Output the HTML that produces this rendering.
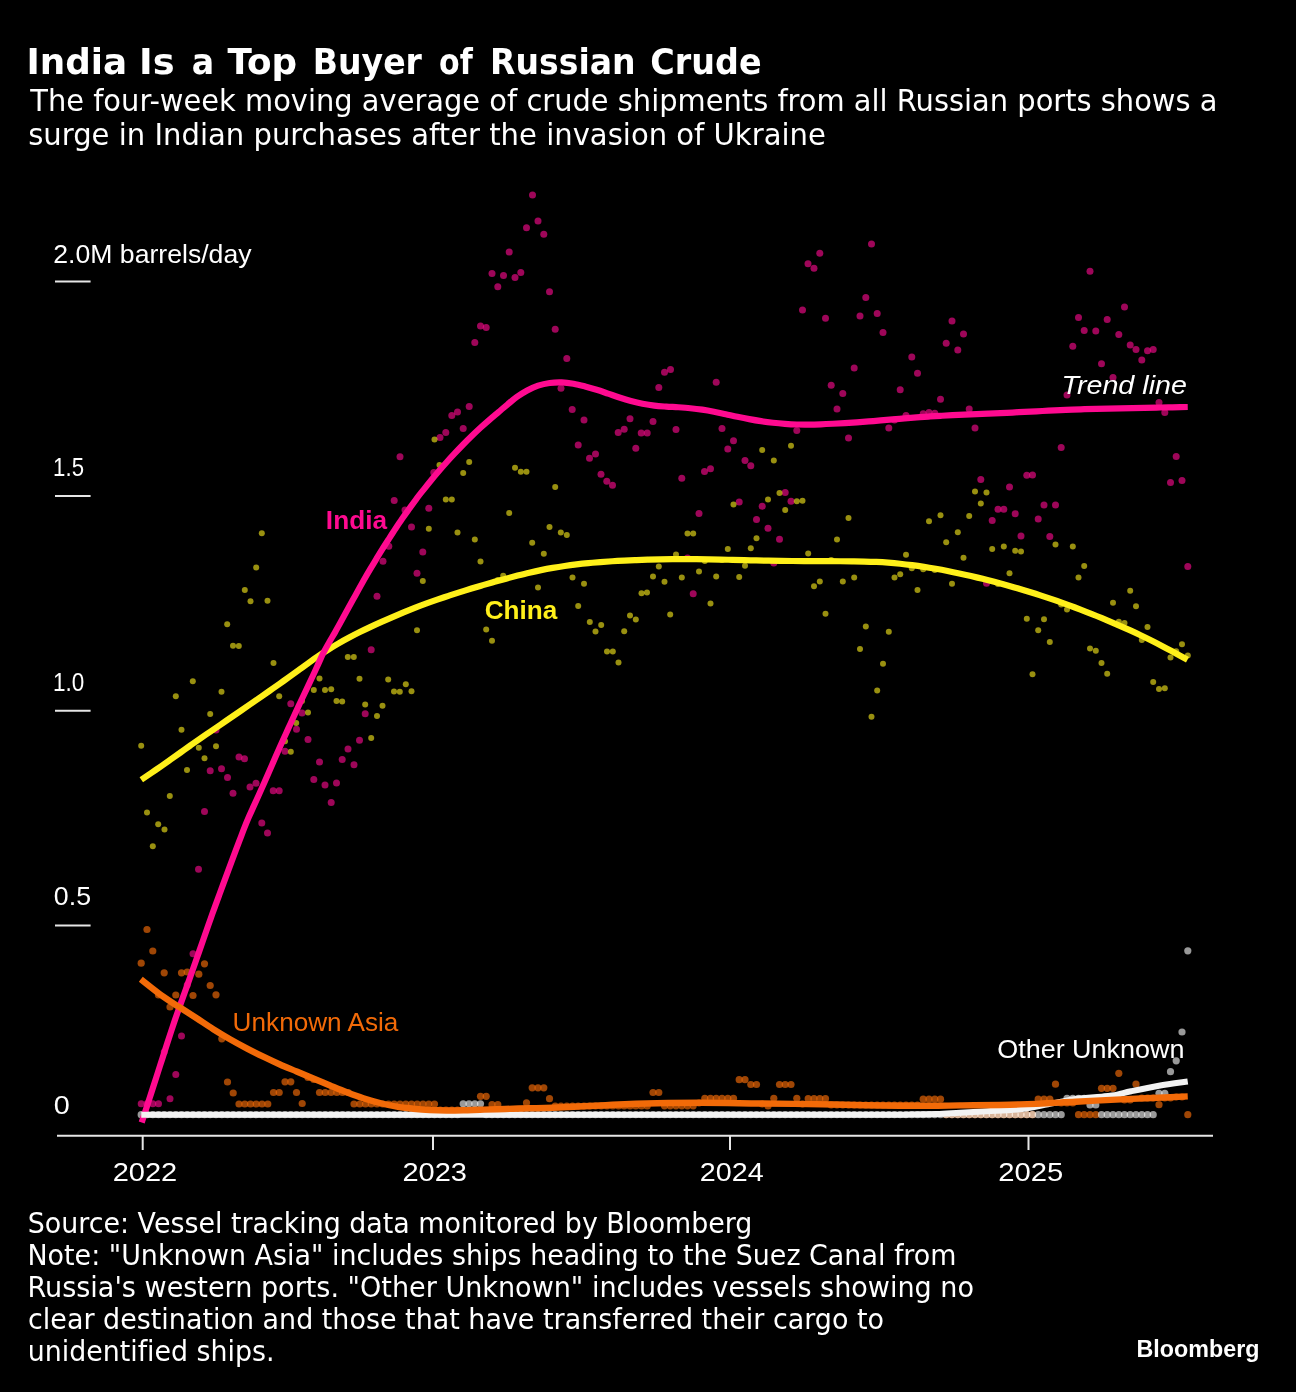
<!DOCTYPE html>
<html lang="en"><head><meta charset="utf-8"><title>India Is a Top Buyer of Russian Crude</title>
<style>html,body{margin:0;padding:0;background:#000}svg{display:block}text{font-variant-ligatures:none;font-kerning:normal}</style></head>
<body>
<svg width="1296" height="1392" viewBox="0 0 1296 1392"><rect width="1296" height="1392" fill="#000"/><g fill="#ff0a90" fill-opacity="0.62"><circle cx="141.2" cy="1103.8" r="3.5"/><circle cx="147.0" cy="1103.8" r="3.5"/><circle cx="152.8" cy="1103.8" r="3.5"/><circle cx="158.5" cy="1103.8" r="3.5"/><circle cx="164.2" cy="1052.0" r="3.5"/><circle cx="170.0" cy="1098.8" r="3.5"/><circle cx="175.8" cy="1074.5" r="3.5"/><circle cx="181.5" cy="1036.0" r="3.5"/><circle cx="187.2" cy="985.0" r="3.5"/><circle cx="193.0" cy="953.8" r="3.5"/><circle cx="198.5" cy="869.2" r="3.5"/><circle cx="204.5" cy="811.5" r="3.5"/><circle cx="210.2" cy="770.8" r="3.5"/><circle cx="216.0" cy="730.0" r="3.5"/><circle cx="221.5" cy="768.8" r="3.5"/><circle cx="227.5" cy="777.5" r="3.5"/><circle cx="233.0" cy="793.2" r="3.5"/><circle cx="239.0" cy="757.0" r="3.5"/><circle cx="244.5" cy="758.8" r="3.5"/><circle cx="250.0" cy="787.0" r="3.5"/><circle cx="256.0" cy="783.2" r="3.5"/><circle cx="261.8" cy="823.0" r="3.5"/><circle cx="267.5" cy="833.0" r="3.5"/><circle cx="273.2" cy="790.8" r="3.5"/><circle cx="279.2" cy="790.8" r="3.5"/><circle cx="285.0" cy="751.2" r="3.5"/><circle cx="290.8" cy="703.8" r="3.5"/><circle cx="296.5" cy="729.2" r="3.5"/><circle cx="302.0" cy="713.0" r="3.5"/><circle cx="308.0" cy="739.5" r="3.5"/><circle cx="313.8" cy="779.5" r="3.5"/><circle cx="319.5" cy="762.0" r="3.5"/><circle cx="325.0" cy="785.0" r="3.5"/><circle cx="331.2" cy="802.5" r="3.5"/><circle cx="336.5" cy="783.0" r="3.5"/><circle cx="342.2" cy="759.5" r="3.5"/><circle cx="348.0" cy="749.0" r="3.5"/><circle cx="354.0" cy="764.8" r="3.5"/><circle cx="359.5" cy="740.2" r="3.5"/><circle cx="365.2" cy="713.8" r="3.5"/><circle cx="371.2" cy="649.8" r="3.5"/><circle cx="377.0" cy="596.2" r="3.5"/><circle cx="383.0" cy="561.2" r="3.5"/><circle cx="388.8" cy="546.2" r="3.5"/><circle cx="394.2" cy="500.5" r="3.5"/><circle cx="400.0" cy="456.8" r="3.5"/><circle cx="405.0" cy="510.0" r="3.5"/><circle cx="411.5" cy="527.0" r="3.5"/><circle cx="417.0" cy="573.2" r="3.5"/><circle cx="422.8" cy="552.0" r="3.5"/><circle cx="428.8" cy="508.2" r="3.5"/><circle cx="433.8" cy="472.5" r="3.5"/><circle cx="440.0" cy="437.5" r="3.5"/><circle cx="445.8" cy="432.5" r="3.5"/><circle cx="451.8" cy="415.5" r="3.5"/><circle cx="457.5" cy="412.0" r="3.5"/><circle cx="463.2" cy="428.5" r="3.5"/><circle cx="469.2" cy="406.5" r="3.5"/><circle cx="474.8" cy="342.5" r="3.5"/><circle cx="480.5" cy="326.0" r="3.5"/><circle cx="486.2" cy="327.5" r="3.5"/><circle cx="492.0" cy="273.5" r="3.5"/><circle cx="497.8" cy="286.8" r="3.5"/><circle cx="503.5" cy="275.5" r="3.5"/><circle cx="509.2" cy="252.0" r="3.5"/><circle cx="515.0" cy="277.5" r="3.5"/><circle cx="520.8" cy="272.5" r="3.5"/><circle cx="526.5" cy="227.8" r="3.5"/><circle cx="532.5" cy="195.0" r="3.5"/><circle cx="538.0" cy="221.0" r="3.5"/><circle cx="543.8" cy="234.2" r="3.5"/><circle cx="549.5" cy="291.8" r="3.5"/><circle cx="555.2" cy="329.2" r="3.5"/><circle cx="561.0" cy="388.2" r="3.5"/><circle cx="566.8" cy="358.5" r="3.5"/><circle cx="572.2" cy="409.5" r="3.5"/><circle cx="578.2" cy="445.0" r="3.5"/><circle cx="584.0" cy="420.0" r="3.5"/><circle cx="589.5" cy="458.2" r="3.5"/><circle cx="595.5" cy="454.0" r="3.5"/><circle cx="601.0" cy="474.2" r="3.5"/><circle cx="606.8" cy="481.2" r="3.5"/><circle cx="612.5" cy="485.2" r="3.5"/><circle cx="618.2" cy="432.5" r="3.5"/><circle cx="624.2" cy="429.2" r="3.5"/><circle cx="630.0" cy="418.8" r="3.5"/><circle cx="635.8" cy="448.2" r="3.5"/><circle cx="641.2" cy="433.0" r="3.5"/><circle cx="647.2" cy="433.0" r="3.5"/><circle cx="653.0" cy="421.5" r="3.5"/><circle cx="658.8" cy="387.5" r="3.5"/><circle cx="664.5" cy="372.2" r="3.5"/><circle cx="670.5" cy="369.5" r="3.5"/><circle cx="676.0" cy="429.5" r="3.5"/><circle cx="681.8" cy="478.2" r="3.5"/><circle cx="687.5" cy="558.0" r="3.5"/><circle cx="693.2" cy="593.8" r="3.5"/><circle cx="699.0" cy="513.5" r="3.5"/><circle cx="704.5" cy="471.5" r="3.5"/><circle cx="710.5" cy="468.8" r="3.5"/><circle cx="716.2" cy="382.2" r="3.5"/><circle cx="722.0" cy="428.5" r="3.5"/><circle cx="727.8" cy="449.0" r="3.5"/><circle cx="733.5" cy="440.8" r="3.5"/><circle cx="739.2" cy="502.0" r="3.5"/><circle cx="745.0" cy="460.5" r="3.5"/><circle cx="750.8" cy="465.8" r="3.5"/><circle cx="756.5" cy="519.5" r="3.5"/><circle cx="762.2" cy="506.2" r="3.5"/><circle cx="768.0" cy="528.2" r="3.5"/><circle cx="773.8" cy="563.0" r="3.5"/><circle cx="779.5" cy="539.2" r="3.5"/><circle cx="785.2" cy="492.5" r="3.5"/><circle cx="791.0" cy="501.2" r="3.5"/><circle cx="796.8" cy="430.5" r="3.5"/><circle cx="802.5" cy="310.0" r="3.5"/><circle cx="808.0" cy="263.8" r="3.5"/><circle cx="814.0" cy="268.2" r="3.5"/><circle cx="819.8" cy="253.2" r="3.5"/><circle cx="825.5" cy="318.2" r="3.5"/><circle cx="831.2" cy="385.2" r="3.5"/><circle cx="837.0" cy="409.0" r="3.5"/><circle cx="842.8" cy="393.5" r="3.5"/><circle cx="848.5" cy="438.0" r="3.5"/><circle cx="854.2" cy="368.0" r="3.5"/><circle cx="860.0" cy="316.0" r="3.5"/><circle cx="865.8" cy="297.5" r="3.5"/><circle cx="871.5" cy="244.0" r="3.5"/><circle cx="877.2" cy="313.5" r="3.5"/><circle cx="883.0" cy="332.5" r="3.5"/><circle cx="888.8" cy="428.0" r="3.5"/><circle cx="894.5" cy="420.0" r="3.5"/><circle cx="900.2" cy="389.8" r="3.5"/><circle cx="906.0" cy="415.5" r="3.5"/><circle cx="911.8" cy="357.0" r="3.5"/><circle cx="917.5" cy="373.2" r="3.5"/><circle cx="923.2" cy="413.8" r="3.5"/><circle cx="929.0" cy="412.5" r="3.5"/><circle cx="934.8" cy="413.2" r="3.5"/><circle cx="940.5" cy="399.2" r="3.5"/><circle cx="946.2" cy="343.2" r="3.5"/><circle cx="952.0" cy="321.0" r="3.5"/><circle cx="957.8" cy="350.0" r="3.5"/><circle cx="963.5" cy="334.0" r="3.5"/><circle cx="969.2" cy="409.0" r="3.5"/><circle cx="975.0" cy="428.0" r="3.5"/><circle cx="980.8" cy="479.5" r="3.5"/><circle cx="986.5" cy="583.2" r="3.5"/><circle cx="992.2" cy="520.5" r="3.5"/><circle cx="998.0" cy="509.2" r="3.5"/><circle cx="1003.8" cy="509.2" r="3.5"/><circle cx="1009.5" cy="487.0" r="3.5"/><circle cx="1015.2" cy="513.8" r="3.5"/><circle cx="1021.0" cy="536.0" r="3.5"/><circle cx="1026.8" cy="475.2" r="3.5"/><circle cx="1032.5" cy="475.0" r="3.5"/><circle cx="1038.2" cy="519.0" r="3.5"/><circle cx="1044.0" cy="505.0" r="3.5"/><circle cx="1049.8" cy="536.5" r="3.5"/><circle cx="1055.5" cy="505.0" r="3.5"/><circle cx="1061.2" cy="447.5" r="3.5"/><circle cx="1067.0" cy="395.0" r="3.5"/><circle cx="1072.8" cy="346.2" r="3.5"/><circle cx="1078.5" cy="317.5" r="3.5"/><circle cx="1084.2" cy="330.5" r="3.5"/><circle cx="1090.0" cy="271.2" r="3.5"/><circle cx="1095.8" cy="331.0" r="3.5"/><circle cx="1101.5" cy="363.8" r="3.5"/><circle cx="1107.2" cy="319.5" r="3.5"/><circle cx="1113.0" cy="377.5" r="3.5"/><circle cx="1118.8" cy="334.5" r="3.5"/><circle cx="1124.5" cy="307.0" r="3.5"/><circle cx="1130.2" cy="345.0" r="3.5"/><circle cx="1136.0" cy="349.5" r="3.5"/><circle cx="1141.8" cy="360.0" r="3.5"/><circle cx="1147.5" cy="350.8" r="3.5"/><circle cx="1153.2" cy="349.5" r="3.5"/><circle cx="1159.0" cy="402.5" r="3.5"/><circle cx="1164.8" cy="412.5" r="3.5"/><circle cx="1170.5" cy="482.5" r="3.5"/><circle cx="1176.2" cy="456.5" r="3.5"/><circle cx="1182.0" cy="480.5" r="3.5"/><circle cx="1187.8" cy="566.5" r="3.5"/></g>
<g fill="#fff01a" fill-opacity="0.6"><circle cx="141.2" cy="745.8" r="3.0"/><circle cx="147.0" cy="812.5" r="3.0"/><circle cx="152.8" cy="846.2" r="3.0"/><circle cx="158.2" cy="824.2" r="3.0"/><circle cx="164.5" cy="829.5" r="3.0"/><circle cx="169.8" cy="796.0" r="3.0"/><circle cx="175.8" cy="696.2" r="3.0"/><circle cx="181.5" cy="729.8" r="3.0"/><circle cx="187.0" cy="770.0" r="3.0"/><circle cx="192.8" cy="681.2" r="3.0"/><circle cx="198.8" cy="747.8" r="3.0"/><circle cx="204.5" cy="758.2" r="3.0"/><circle cx="210.2" cy="714.0" r="3.0"/><circle cx="216.0" cy="746.2" r="3.0"/><circle cx="221.5" cy="691.8" r="3.0"/><circle cx="227.2" cy="624.2" r="3.0"/><circle cx="233.0" cy="645.8" r="3.0"/><circle cx="238.8" cy="646.0" r="3.0"/><circle cx="244.8" cy="590.0" r="3.0"/><circle cx="250.5" cy="601.2" r="3.0"/><circle cx="256.2" cy="567.5" r="3.0"/><circle cx="261.8" cy="533.2" r="3.0"/><circle cx="267.5" cy="600.8" r="3.0"/><circle cx="273.5" cy="663.0" r="3.0"/><circle cx="279.2" cy="696.2" r="3.0"/><circle cx="285.0" cy="741.2" r="3.0"/><circle cx="290.8" cy="751.8" r="3.0"/><circle cx="296.2" cy="723.0" r="3.0"/><circle cx="302.0" cy="701.0" r="3.0"/><circle cx="308.0" cy="712.5" r="3.0"/><circle cx="313.8" cy="690.0" r="3.0"/><circle cx="319.5" cy="678.5" r="3.0"/><circle cx="325.0" cy="690.0" r="3.0"/><circle cx="331.2" cy="689.2" r="3.0"/><circle cx="336.5" cy="701.0" r="3.0"/><circle cx="342.2" cy="701.5" r="3.0"/><circle cx="347.8" cy="657.0" r="3.0"/><circle cx="353.8" cy="657.0" r="3.0"/><circle cx="359.5" cy="678.8" r="3.0"/><circle cx="365.2" cy="704.5" r="3.0"/><circle cx="371.2" cy="738.0" r="3.0"/><circle cx="377.0" cy="716.0" r="3.0"/><circle cx="382.5" cy="705.8" r="3.0"/><circle cx="388.2" cy="679.5" r="3.0"/><circle cx="394.0" cy="691.5" r="3.0"/><circle cx="399.8" cy="691.8" r="3.0"/><circle cx="405.8" cy="684.2" r="3.0"/><circle cx="411.5" cy="691.2" r="3.0"/><circle cx="417.0" cy="630.2" r="3.0"/><circle cx="422.8" cy="581.0" r="3.0"/><circle cx="428.8" cy="528.8" r="3.0"/><circle cx="434.5" cy="439.5" r="3.0"/><circle cx="439.5" cy="465.0" r="3.0"/><circle cx="445.8" cy="499.5" r="3.0"/><circle cx="451.8" cy="499.5" r="3.0"/><circle cx="457.5" cy="532.5" r="3.0"/><circle cx="463.2" cy="473.0" r="3.0"/><circle cx="469.2" cy="462.0" r="3.0"/><circle cx="474.8" cy="539.5" r="3.0"/><circle cx="480.5" cy="561.5" r="3.0"/><circle cx="486.2" cy="629.5" r="3.0"/><circle cx="492.0" cy="640.8" r="3.0"/><circle cx="497.8" cy="580.0" r="3.0"/><circle cx="503.2" cy="575.8" r="3.0"/><circle cx="509.2" cy="513.0" r="3.0"/><circle cx="515.0" cy="467.8" r="3.0"/><circle cx="520.8" cy="471.8" r="3.0"/><circle cx="526.5" cy="471.8" r="3.0"/><circle cx="532.2" cy="542.8" r="3.0"/><circle cx="538.0" cy="587.5" r="3.0"/><circle cx="543.8" cy="553.8" r="3.0"/><circle cx="549.5" cy="527.0" r="3.0"/><circle cx="555.2" cy="487.0" r="3.0"/><circle cx="560.8" cy="532.5" r="3.0"/><circle cx="566.8" cy="535.0" r="3.0"/><circle cx="572.5" cy="577.5" r="3.0"/><circle cx="578.2" cy="606.0" r="3.0"/><circle cx="584.0" cy="583.8" r="3.0"/><circle cx="589.8" cy="622.0" r="3.0"/><circle cx="595.5" cy="631.5" r="3.0"/><circle cx="601.2" cy="625.0" r="3.0"/><circle cx="607.0" cy="651.5" r="3.0"/><circle cx="612.8" cy="651.5" r="3.0"/><circle cx="618.5" cy="662.5" r="3.0"/><circle cx="624.2" cy="631.2" r="3.0"/><circle cx="630.0" cy="615.5" r="3.0"/><circle cx="635.8" cy="619.5" r="3.0"/><circle cx="641.5" cy="593.2" r="3.0"/><circle cx="647.0" cy="592.5" r="3.0"/><circle cx="653.0" cy="576.5" r="3.0"/><circle cx="658.8" cy="566.5" r="3.0"/><circle cx="664.5" cy="581.8" r="3.0"/><circle cx="670.2" cy="614.5" r="3.0"/><circle cx="676.0" cy="554.5" r="3.0"/><circle cx="681.8" cy="577.5" r="3.0"/><circle cx="687.5" cy="533.5" r="3.0"/><circle cx="693.2" cy="533.5" r="3.0"/><circle cx="699.0" cy="571.5" r="3.0"/><circle cx="704.8" cy="561.0" r="3.0"/><circle cx="710.5" cy="603.5" r="3.0"/><circle cx="716.2" cy="576.5" r="3.0"/><circle cx="722.0" cy="560.0" r="3.0"/><circle cx="727.8" cy="549.0" r="3.0"/><circle cx="733.5" cy="504.5" r="3.0"/><circle cx="739.2" cy="577.0" r="3.0"/><circle cx="745.0" cy="565.8" r="3.0"/><circle cx="750.8" cy="548.2" r="3.0"/><circle cx="756.5" cy="538.2" r="3.0"/><circle cx="762.2" cy="450.0" r="3.0"/><circle cx="768.0" cy="499.5" r="3.0"/><circle cx="773.8" cy="460.5" r="3.0"/><circle cx="779.5" cy="493.0" r="3.0"/><circle cx="785.2" cy="510.0" r="3.0"/><circle cx="791.0" cy="445.8" r="3.0"/><circle cx="796.8" cy="501.2" r="3.0"/><circle cx="802.5" cy="500.8" r="3.0"/><circle cx="808.2" cy="553.5" r="3.0"/><circle cx="814.0" cy="586.2" r="3.0"/><circle cx="819.8" cy="581.5" r="3.0"/><circle cx="825.5" cy="613.8" r="3.0"/><circle cx="831.2" cy="560.0" r="3.0"/><circle cx="837.0" cy="539.5" r="3.0"/><circle cx="842.8" cy="581.5" r="3.0"/><circle cx="848.5" cy="518.0" r="3.0"/><circle cx="854.2" cy="577.5" r="3.0"/><circle cx="860.0" cy="649.0" r="3.0"/><circle cx="865.8" cy="626.5" r="3.0"/><circle cx="871.5" cy="716.8" r="3.0"/><circle cx="877.2" cy="690.5" r="3.0"/><circle cx="883.0" cy="663.8" r="3.0"/><circle cx="888.8" cy="631.8" r="3.0"/><circle cx="894.5" cy="577.5" r="3.0"/><circle cx="900.2" cy="574.2" r="3.0"/><circle cx="906.0" cy="554.8" r="3.0"/><circle cx="911.8" cy="568.2" r="3.0"/><circle cx="917.5" cy="590.0" r="3.0"/><circle cx="923.2" cy="569.2" r="3.0"/><circle cx="929.0" cy="521.2" r="3.0"/><circle cx="934.8" cy="570.0" r="3.0"/><circle cx="940.5" cy="515.2" r="3.0"/><circle cx="946.2" cy="542.2" r="3.0"/><circle cx="952.0" cy="583.8" r="3.0"/><circle cx="957.8" cy="532.2" r="3.0"/><circle cx="963.5" cy="557.8" r="3.0"/><circle cx="969.2" cy="516.0" r="3.0"/><circle cx="975.0" cy="491.5" r="3.0"/><circle cx="980.8" cy="503.5" r="3.0"/><circle cx="986.5" cy="492.5" r="3.0"/><circle cx="992.2" cy="549.0" r="3.0"/><circle cx="998.0" cy="584.0" r="3.0"/><circle cx="1003.8" cy="546.5" r="3.0"/><circle cx="1009.5" cy="573.2" r="3.0"/><circle cx="1015.2" cy="550.8" r="3.0"/><circle cx="1021.0" cy="551.5" r="3.0"/><circle cx="1026.8" cy="618.8" r="3.0"/><circle cx="1032.5" cy="674.2" r="3.0"/><circle cx="1038.2" cy="630.2" r="3.0"/><circle cx="1044.0" cy="619.2" r="3.0"/><circle cx="1049.8" cy="642.0" r="3.0"/><circle cx="1055.5" cy="544.5" r="3.0"/><circle cx="1061.2" cy="604.5" r="3.0"/><circle cx="1067.0" cy="609.5" r="3.0"/><circle cx="1072.8" cy="546.5" r="3.0"/><circle cx="1078.5" cy="577.5" r="3.0"/><circle cx="1084.2" cy="566.0" r="3.0"/><circle cx="1090.0" cy="648.5" r="3.0"/><circle cx="1095.8" cy="650.8" r="3.0"/><circle cx="1101.5" cy="663.0" r="3.0"/><circle cx="1107.2" cy="673.8" r="3.0"/><circle cx="1113.0" cy="602.8" r="3.0"/><circle cx="1118.8" cy="621.8" r="3.0"/><circle cx="1124.5" cy="623.0" r="3.0"/><circle cx="1130.2" cy="590.8" r="3.0"/><circle cx="1136.0" cy="606.2" r="3.0"/><circle cx="1141.8" cy="640.0" r="3.0"/><circle cx="1147.5" cy="627.0" r="3.0"/><circle cx="1153.2" cy="682.0" r="3.0"/><circle cx="1159.0" cy="689.0" r="3.0"/><circle cx="1164.8" cy="688.2" r="3.0"/><circle cx="1170.5" cy="657.5" r="3.0"/><circle cx="1176.2" cy="651.2" r="3.0"/><circle cx="1182.0" cy="644.2" r="3.0"/><circle cx="1187.8" cy="655.5" r="3.0"/></g>
<g fill="#f26a08" fill-opacity="0.66"><circle cx="141.2" cy="963.2" r="3.6"/><circle cx="147.0" cy="929.5" r="3.6"/><circle cx="152.8" cy="951.0" r="3.6"/><circle cx="158.5" cy="995.0" r="3.6"/><circle cx="164.2" cy="972.8" r="3.6"/><circle cx="170.0" cy="1007.0" r="3.6"/><circle cx="175.8" cy="995.0" r="3.6"/><circle cx="181.5" cy="972.8" r="3.6"/><circle cx="187.2" cy="972.0" r="3.6"/><circle cx="193.0" cy="995.5" r="3.6"/><circle cx="198.8" cy="974.2" r="3.6"/><circle cx="204.5" cy="963.8" r="3.6"/><circle cx="210.2" cy="985.5" r="3.6"/><circle cx="216.0" cy="994.8" r="3.6"/><circle cx="221.8" cy="1038.8" r="3.6"/><circle cx="227.5" cy="1082.0" r="3.6"/><circle cx="233.2" cy="1093.0" r="3.6"/><circle cx="239.0" cy="1104.0" r="3.6"/><circle cx="244.8" cy="1104.0" r="3.6"/><circle cx="250.5" cy="1104.0" r="3.6"/><circle cx="256.2" cy="1104.0" r="3.6"/><circle cx="262.0" cy="1104.0" r="3.6"/><circle cx="267.8" cy="1104.0" r="3.6"/><circle cx="273.5" cy="1092.5" r="3.6"/><circle cx="279.2" cy="1092.5" r="3.6"/><circle cx="285.0" cy="1081.8" r="3.6"/><circle cx="290.8" cy="1081.8" r="3.6"/><circle cx="296.5" cy="1092.5" r="3.6"/><circle cx="302.2" cy="1103.5" r="3.6"/><circle cx="308.0" cy="1077.5" r="3.6"/><circle cx="313.8" cy="1079.5" r="3.6"/><circle cx="319.5" cy="1092.5" r="3.6"/><circle cx="325.2" cy="1092.5" r="3.6"/><circle cx="331.0" cy="1092.5" r="3.6"/><circle cx="336.8" cy="1092.5" r="3.6"/><circle cx="342.5" cy="1092.5" r="3.6"/><circle cx="348.2" cy="1092.5" r="3.6"/><circle cx="354.0" cy="1104.0" r="3.6"/><circle cx="359.8" cy="1104.0" r="3.6"/><circle cx="365.5" cy="1104.0" r="3.6"/><circle cx="371.2" cy="1104.0" r="3.6"/><circle cx="377.0" cy="1104.0" r="3.6"/><circle cx="382.8" cy="1104.0" r="3.6"/><circle cx="388.5" cy="1104.0" r="3.6"/><circle cx="394.2" cy="1104.0" r="3.6"/><circle cx="400.0" cy="1104.0" r="3.6"/><circle cx="405.8" cy="1104.0" r="3.6"/><circle cx="411.5" cy="1104.0" r="3.6"/><circle cx="417.2" cy="1104.0" r="3.6"/><circle cx="423.0" cy="1104.0" r="3.6"/><circle cx="428.8" cy="1104.0" r="3.6"/><circle cx="434.5" cy="1104.0" r="3.6"/><circle cx="440.2" cy="1110.0" r="3.6"/><circle cx="446.0" cy="1110.0" r="3.6"/><circle cx="451.8" cy="1110.0" r="3.6"/><circle cx="457.5" cy="1110.0" r="3.6"/><circle cx="463.2" cy="1110.0" r="3.6"/><circle cx="469.0" cy="1110.0" r="3.6"/><circle cx="474.8" cy="1110.0" r="3.6"/><circle cx="480.5" cy="1096.3" r="3.6"/><circle cx="486.2" cy="1096.3" r="3.6"/><circle cx="492.0" cy="1104.7" r="3.6"/><circle cx="497.8" cy="1104.7" r="3.6"/><circle cx="503.5" cy="1110.0" r="3.6"/><circle cx="509.2" cy="1110.0" r="3.6"/><circle cx="515.0" cy="1110.0" r="3.6"/><circle cx="520.8" cy="1110.0" r="3.6"/><circle cx="526.5" cy="1102.8" r="3.6"/><circle cx="532.2" cy="1087.8" r="3.6"/><circle cx="538.0" cy="1087.8" r="3.6"/><circle cx="543.8" cy="1087.8" r="3.6"/><circle cx="549.5" cy="1098.7" r="3.6"/><circle cx="555.2" cy="1106.0" r="3.6"/><circle cx="561.0" cy="1106.0" r="3.6"/><circle cx="566.8" cy="1106.0" r="3.6"/><circle cx="572.5" cy="1106.0" r="3.6"/><circle cx="578.2" cy="1106.0" r="3.6"/><circle cx="584.0" cy="1106.0" r="3.6"/><circle cx="589.8" cy="1106.0" r="3.6"/><circle cx="595.5" cy="1106.0" r="3.6"/><circle cx="601.2" cy="1106.0" r="3.6"/><circle cx="607.0" cy="1106.0" r="3.6"/><circle cx="612.8" cy="1106.0" r="3.6"/><circle cx="618.5" cy="1106.0" r="3.6"/><circle cx="624.2" cy="1106.0" r="3.6"/><circle cx="630.0" cy="1106.0" r="3.6"/><circle cx="635.8" cy="1106.0" r="3.6"/><circle cx="641.5" cy="1106.0" r="3.6"/><circle cx="647.2" cy="1106.0" r="3.6"/><circle cx="653.0" cy="1092.5" r="3.6"/><circle cx="658.8" cy="1092.5" r="3.6"/><circle cx="664.5" cy="1105.8" r="3.6"/><circle cx="670.2" cy="1105.8" r="3.6"/><circle cx="676.0" cy="1105.8" r="3.6"/><circle cx="681.8" cy="1105.8" r="3.6"/><circle cx="687.5" cy="1105.8" r="3.6"/><circle cx="693.2" cy="1105.8" r="3.6"/><circle cx="699.0" cy="1103.0" r="3.6"/><circle cx="704.8" cy="1098.3" r="3.6"/><circle cx="710.5" cy="1098.3" r="3.6"/><circle cx="716.2" cy="1098.3" r="3.6"/><circle cx="722.0" cy="1098.3" r="3.6"/><circle cx="727.8" cy="1098.3" r="3.6"/><circle cx="733.5" cy="1098.3" r="3.6"/><circle cx="739.2" cy="1079.7" r="3.6"/><circle cx="745.0" cy="1079.7" r="3.6"/><circle cx="750.8" cy="1084.5" r="3.6"/><circle cx="756.5" cy="1084.5" r="3.6"/><circle cx="762.2" cy="1104.0" r="3.6"/><circle cx="768.0" cy="1106.0" r="3.6"/><circle cx="773.8" cy="1098.3" r="3.6"/><circle cx="779.5" cy="1084.5" r="3.6"/><circle cx="785.2" cy="1084.5" r="3.6"/><circle cx="791.0" cy="1084.5" r="3.6"/><circle cx="796.8" cy="1098.3" r="3.6"/><circle cx="802.5" cy="1104.0" r="3.6"/><circle cx="808.2" cy="1098.7" r="3.6"/><circle cx="814.0" cy="1098.7" r="3.6"/><circle cx="819.8" cy="1098.7" r="3.6"/><circle cx="825.5" cy="1098.7" r="3.6"/><circle cx="831.2" cy="1105.0" r="3.6"/><circle cx="837.0" cy="1105.0" r="3.6"/><circle cx="842.8" cy="1105.0" r="3.6"/><circle cx="848.5" cy="1105.0" r="3.6"/><circle cx="854.2" cy="1105.0" r="3.6"/><circle cx="860.0" cy="1105.0" r="3.6"/><circle cx="865.8" cy="1105.0" r="3.6"/><circle cx="871.5" cy="1105.0" r="3.6"/><circle cx="877.2" cy="1105.0" r="3.6"/><circle cx="883.0" cy="1105.0" r="3.6"/><circle cx="888.8" cy="1105.0" r="3.6"/><circle cx="894.5" cy="1105.0" r="3.6"/><circle cx="900.2" cy="1105.0" r="3.6"/><circle cx="906.0" cy="1105.0" r="3.6"/><circle cx="911.8" cy="1105.0" r="3.6"/><circle cx="917.5" cy="1105.0" r="3.6"/><circle cx="923.2" cy="1099.2" r="3.6"/><circle cx="929.0" cy="1099.2" r="3.6"/><circle cx="934.8" cy="1099.2" r="3.6"/><circle cx="940.5" cy="1099.2" r="3.6"/><circle cx="946.2" cy="1114.7" r="3.6"/><circle cx="952.0" cy="1114.7" r="3.6"/><circle cx="957.8" cy="1114.7" r="3.6"/><circle cx="963.5" cy="1114.7" r="3.6"/><circle cx="969.2" cy="1114.7" r="3.6"/><circle cx="975.0" cy="1114.7" r="3.6"/><circle cx="980.8" cy="1114.7" r="3.6"/><circle cx="986.5" cy="1114.7" r="3.6"/><circle cx="992.2" cy="1114.7" r="3.6"/><circle cx="998.0" cy="1114.7" r="3.6"/><circle cx="1003.8" cy="1114.7" r="3.6"/><circle cx="1009.5" cy="1114.7" r="3.6"/><circle cx="1015.2" cy="1114.7" r="3.6"/><circle cx="1021.0" cy="1114.7" r="3.6"/><circle cx="1026.8" cy="1114.7" r="3.6"/><circle cx="1032.5" cy="1114.7" r="3.6"/><circle cx="1038.2" cy="1099.2" r="3.6"/><circle cx="1044.0" cy="1099.2" r="3.6"/><circle cx="1049.8" cy="1099.2" r="3.6"/><circle cx="1055.5" cy="1084.2" r="3.6"/><circle cx="1061.2" cy="1103.0" r="3.6"/><circle cx="1067.0" cy="1103.0" r="3.6"/><circle cx="1072.8" cy="1103.0" r="3.6"/><circle cx="1078.5" cy="1114.7" r="3.6"/><circle cx="1084.2" cy="1114.7" r="3.6"/><circle cx="1090.0" cy="1114.7" r="3.6"/><circle cx="1095.8" cy="1114.7" r="3.6"/><circle cx="1101.5" cy="1088.3" r="3.6"/><circle cx="1107.2" cy="1088.3" r="3.6"/><circle cx="1113.0" cy="1088.3" r="3.6"/><circle cx="1118.8" cy="1073.3" r="3.6"/><circle cx="1124.5" cy="1100.0" r="3.6"/><circle cx="1130.2" cy="1100.0" r="3.6"/><circle cx="1136.0" cy="1084.2" r="3.6"/><circle cx="1141.8" cy="1098.0" r="3.6"/><circle cx="1147.5" cy="1098.0" r="3.6"/><circle cx="1153.2" cy="1098.0" r="3.6"/><circle cx="1159.0" cy="1104.7" r="3.6"/><circle cx="1164.8" cy="1098.0" r="3.6"/><circle cx="1170.5" cy="1098.0" r="3.6"/><circle cx="1176.2" cy="1097.0" r="3.6"/><circle cx="1182.0" cy="1097.0" r="3.6"/><circle cx="1187.8" cy="1114.7" r="3.6"/></g>
<g fill="#ffffff" fill-opacity="0.6"><circle cx="141.2" cy="1114.7" r="3.6"/><circle cx="147.0" cy="1114.7" r="3.6"/><circle cx="152.8" cy="1114.7" r="3.6"/><circle cx="158.5" cy="1114.7" r="3.6"/><circle cx="164.2" cy="1114.7" r="3.6"/><circle cx="170.0" cy="1114.7" r="3.6"/><circle cx="175.8" cy="1114.7" r="3.6"/><circle cx="181.5" cy="1114.7" r="3.6"/><circle cx="187.2" cy="1114.7" r="3.6"/><circle cx="193.0" cy="1114.7" r="3.6"/><circle cx="198.8" cy="1114.7" r="3.6"/><circle cx="204.5" cy="1114.7" r="3.6"/><circle cx="210.2" cy="1114.7" r="3.6"/><circle cx="216.0" cy="1114.7" r="3.6"/><circle cx="221.8" cy="1114.7" r="3.6"/><circle cx="227.5" cy="1114.7" r="3.6"/><circle cx="233.2" cy="1114.7" r="3.6"/><circle cx="239.0" cy="1114.7" r="3.6"/><circle cx="244.8" cy="1114.7" r="3.6"/><circle cx="250.5" cy="1114.7" r="3.6"/><circle cx="256.2" cy="1114.7" r="3.6"/><circle cx="262.0" cy="1114.7" r="3.6"/><circle cx="267.8" cy="1114.7" r="3.6"/><circle cx="273.5" cy="1114.7" r="3.6"/><circle cx="279.2" cy="1114.7" r="3.6"/><circle cx="285.0" cy="1114.7" r="3.6"/><circle cx="290.8" cy="1114.7" r="3.6"/><circle cx="296.5" cy="1114.7" r="3.6"/><circle cx="302.2" cy="1114.7" r="3.6"/><circle cx="308.0" cy="1114.7" r="3.6"/><circle cx="313.8" cy="1114.7" r="3.6"/><circle cx="319.5" cy="1114.7" r="3.6"/><circle cx="325.2" cy="1114.7" r="3.6"/><circle cx="331.0" cy="1114.7" r="3.6"/><circle cx="336.8" cy="1114.7" r="3.6"/><circle cx="342.5" cy="1114.7" r="3.6"/><circle cx="348.2" cy="1114.7" r="3.6"/><circle cx="354.0" cy="1114.7" r="3.6"/><circle cx="359.8" cy="1114.7" r="3.6"/><circle cx="365.5" cy="1114.7" r="3.6"/><circle cx="371.2" cy="1114.7" r="3.6"/><circle cx="377.0" cy="1114.7" r="3.6"/><circle cx="382.8" cy="1114.7" r="3.6"/><circle cx="388.5" cy="1114.7" r="3.6"/><circle cx="394.2" cy="1114.7" r="3.6"/><circle cx="400.0" cy="1114.7" r="3.6"/><circle cx="405.8" cy="1114.7" r="3.6"/><circle cx="411.5" cy="1114.7" r="3.6"/><circle cx="417.2" cy="1114.7" r="3.6"/><circle cx="423.0" cy="1114.7" r="3.6"/><circle cx="428.8" cy="1114.7" r="3.6"/><circle cx="434.5" cy="1114.7" r="3.6"/><circle cx="440.2" cy="1114.7" r="3.6"/><circle cx="446.0" cy="1114.7" r="3.6"/><circle cx="451.8" cy="1114.7" r="3.6"/><circle cx="457.5" cy="1114.7" r="3.6"/><circle cx="463.2" cy="1103.8" r="3.6"/><circle cx="469.0" cy="1103.8" r="3.6"/><circle cx="474.8" cy="1103.8" r="3.6"/><circle cx="480.5" cy="1103.8" r="3.6"/><circle cx="486.2" cy="1114.7" r="3.6"/><circle cx="492.0" cy="1114.7" r="3.6"/><circle cx="497.8" cy="1114.7" r="3.6"/><circle cx="503.5" cy="1114.7" r="3.6"/><circle cx="509.2" cy="1114.7" r="3.6"/><circle cx="515.0" cy="1114.7" r="3.6"/><circle cx="520.8" cy="1114.7" r="3.6"/><circle cx="526.5" cy="1114.7" r="3.6"/><circle cx="532.2" cy="1114.7" r="3.6"/><circle cx="538.0" cy="1114.7" r="3.6"/><circle cx="543.8" cy="1114.7" r="3.6"/><circle cx="549.5" cy="1114.7" r="3.6"/><circle cx="555.2" cy="1114.7" r="3.6"/><circle cx="561.0" cy="1114.7" r="3.6"/><circle cx="566.8" cy="1114.7" r="3.6"/><circle cx="572.5" cy="1114.7" r="3.6"/><circle cx="578.2" cy="1114.7" r="3.6"/><circle cx="584.0" cy="1114.7" r="3.6"/><circle cx="589.8" cy="1114.7" r="3.6"/><circle cx="595.5" cy="1114.7" r="3.6"/><circle cx="601.2" cy="1114.7" r="3.6"/><circle cx="607.0" cy="1114.7" r="3.6"/><circle cx="612.8" cy="1114.7" r="3.6"/><circle cx="618.5" cy="1114.7" r="3.6"/><circle cx="624.2" cy="1114.7" r="3.6"/><circle cx="630.0" cy="1114.7" r="3.6"/><circle cx="635.8" cy="1114.7" r="3.6"/><circle cx="641.5" cy="1114.7" r="3.6"/><circle cx="647.2" cy="1114.7" r="3.6"/><circle cx="653.0" cy="1114.7" r="3.6"/><circle cx="658.8" cy="1114.7" r="3.6"/><circle cx="664.5" cy="1114.7" r="3.6"/><circle cx="670.2" cy="1114.7" r="3.6"/><circle cx="676.0" cy="1114.7" r="3.6"/><circle cx="681.8" cy="1114.7" r="3.6"/><circle cx="687.5" cy="1114.7" r="3.6"/><circle cx="693.2" cy="1114.7" r="3.6"/><circle cx="699.0" cy="1114.7" r="3.6"/><circle cx="704.8" cy="1114.7" r="3.6"/><circle cx="710.5" cy="1114.7" r="3.6"/><circle cx="716.2" cy="1114.7" r="3.6"/><circle cx="722.0" cy="1114.7" r="3.6"/><circle cx="727.8" cy="1114.7" r="3.6"/><circle cx="733.5" cy="1114.7" r="3.6"/><circle cx="739.2" cy="1114.7" r="3.6"/><circle cx="745.0" cy="1114.7" r="3.6"/><circle cx="750.8" cy="1114.7" r="3.6"/><circle cx="756.5" cy="1114.7" r="3.6"/><circle cx="762.2" cy="1114.7" r="3.6"/><circle cx="768.0" cy="1114.7" r="3.6"/><circle cx="773.8" cy="1114.7" r="3.6"/><circle cx="779.5" cy="1114.7" r="3.6"/><circle cx="785.2" cy="1114.7" r="3.6"/><circle cx="791.0" cy="1114.7" r="3.6"/><circle cx="796.8" cy="1114.7" r="3.6"/><circle cx="802.5" cy="1114.7" r="3.6"/><circle cx="808.2" cy="1114.7" r="3.6"/><circle cx="814.0" cy="1114.7" r="3.6"/><circle cx="819.8" cy="1114.7" r="3.6"/><circle cx="825.5" cy="1114.7" r="3.6"/><circle cx="831.2" cy="1114.7" r="3.6"/><circle cx="837.0" cy="1114.7" r="3.6"/><circle cx="842.8" cy="1114.7" r="3.6"/><circle cx="848.5" cy="1114.7" r="3.6"/><circle cx="854.2" cy="1114.7" r="3.6"/><circle cx="860.0" cy="1114.7" r="3.6"/><circle cx="865.8" cy="1114.7" r="3.6"/><circle cx="871.5" cy="1114.7" r="3.6"/><circle cx="877.2" cy="1114.7" r="3.6"/><circle cx="883.0" cy="1114.7" r="3.6"/><circle cx="888.8" cy="1114.7" r="3.6"/><circle cx="894.5" cy="1114.7" r="3.6"/><circle cx="900.2" cy="1114.7" r="3.6"/><circle cx="906.0" cy="1114.7" r="3.6"/><circle cx="911.8" cy="1114.7" r="3.6"/><circle cx="917.5" cy="1114.7" r="3.6"/><circle cx="923.2" cy="1114.7" r="3.6"/><circle cx="929.0" cy="1114.7" r="3.6"/><circle cx="934.8" cy="1114.7" r="3.6"/><circle cx="940.5" cy="1114.7" r="3.6"/><circle cx="946.2" cy="1114.7" r="3.6"/><circle cx="952.0" cy="1114.7" r="3.6"/><circle cx="957.8" cy="1114.7" r="3.6"/><circle cx="963.5" cy="1114.7" r="3.6"/><circle cx="969.2" cy="1114.7" r="3.6"/><circle cx="975.0" cy="1114.7" r="3.6"/><circle cx="980.8" cy="1114.7" r="3.6"/><circle cx="986.5" cy="1114.7" r="3.6"/><circle cx="992.2" cy="1114.7" r="3.6"/><circle cx="998.0" cy="1114.7" r="3.6"/><circle cx="1003.8" cy="1114.7" r="3.6"/><circle cx="1009.5" cy="1114.7" r="3.6"/><circle cx="1015.2" cy="1114.7" r="3.6"/><circle cx="1021.0" cy="1114.7" r="3.6"/><circle cx="1026.8" cy="1114.7" r="3.6"/><circle cx="1032.5" cy="1114.7" r="3.6"/><circle cx="1038.2" cy="1114.7" r="3.6"/><circle cx="1044.0" cy="1114.7" r="3.6"/><circle cx="1049.8" cy="1114.7" r="3.6"/><circle cx="1055.5" cy="1114.7" r="3.6"/><circle cx="1061.2" cy="1114.7" r="3.6"/><circle cx="1067.0" cy="1098.3" r="3.6"/><circle cx="1072.8" cy="1098.3" r="3.6"/><circle cx="1078.5" cy="1098.3" r="3.6"/><circle cx="1084.2" cy="1098.3" r="3.6"/><circle cx="1090.0" cy="1105.0" r="3.6"/><circle cx="1095.8" cy="1105.0" r="3.6"/><circle cx="1101.5" cy="1114.7" r="3.6"/><circle cx="1107.2" cy="1114.7" r="3.6"/><circle cx="1113.0" cy="1114.7" r="3.6"/><circle cx="1118.8" cy="1114.7" r="3.6"/><circle cx="1124.5" cy="1114.7" r="3.6"/><circle cx="1130.2" cy="1114.7" r="3.6"/><circle cx="1136.0" cy="1114.7" r="3.6"/><circle cx="1141.8" cy="1114.7" r="3.6"/><circle cx="1147.5" cy="1114.7" r="3.6"/><circle cx="1153.2" cy="1114.7" r="3.6"/><circle cx="1159.0" cy="1093.3" r="3.6"/><circle cx="1164.8" cy="1093.3" r="3.6"/><circle cx="1170.5" cy="1071.7" r="3.6"/><circle cx="1176.2" cy="1060.8" r="3.6"/><circle cx="1182.0" cy="1032.0" r="3.6"/><circle cx="1187.8" cy="950.8" r="3.6"/></g>
<path d="M141.30,779.70C142.96,778.58 147.94,775.23 151.24,772.99C154.55,770.74 157.85,768.48 161.14,766.20C164.43,763.93 167.70,761.63 170.97,759.32C174.24,757.01 177.49,754.68 180.74,752.36C184.00,750.04 187.25,747.71 190.52,745.40C193.79,743.10 197.06,740.80 200.34,738.51C203.63,736.23 206.92,733.97 210.22,731.71C213.52,729.44 216.83,727.20 220.13,724.94C223.44,722.69 226.74,720.44 230.04,718.18C233.34,715.92 236.64,713.65 239.94,711.38C243.23,709.12 246.52,706.84 249.82,704.57C253.11,702.30 256.40,700.02 259.68,697.74C262.97,695.46 266.26,693.18 269.53,690.89C272.81,688.60 276.08,686.30 279.35,683.99C282.61,681.67 285.86,679.35 289.11,677.01C292.36,674.68 295.59,672.32 298.83,669.97C302.07,667.62 305.28,665.25 308.54,662.93C311.79,660.61 315.04,658.29 318.35,656.05C321.66,653.81 324.99,651.61 328.38,649.50C331.77,647.38 335.20,645.35 338.67,643.36C342.13,641.37 345.64,639.46 349.17,637.58C352.69,635.70 356.25,633.87 359.82,632.09C363.40,630.30 367.00,628.56 370.62,626.86C374.23,625.16 377.87,623.50 381.52,621.87C385.17,620.23 388.84,618.63 392.51,617.05C396.18,615.47 399.87,613.91 403.56,612.38C407.26,610.86 410.97,609.36 414.69,607.90C418.41,606.45 422.15,605.03 425.91,603.66C429.66,602.28 433.43,600.95 437.21,599.64C440.99,598.34 444.78,597.07 448.58,595.83C452.38,594.58 456.19,593.36 460.00,592.15C463.81,590.94 467.63,589.74 471.45,588.57C475.28,587.40 479.11,586.25 482.95,585.13C486.78,584.01 490.63,582.92 494.48,581.84C498.34,580.77 502.20,579.72 506.06,578.68C509.92,577.65 513.78,576.61 517.66,575.62C521.53,574.63 525.41,573.64 529.30,572.73C533.19,571.81 537.08,570.93 541.00,570.12C544.91,569.30 548.84,568.55 552.77,567.86C556.71,567.17 560.65,566.54 564.61,565.96C568.56,565.38 572.53,564.86 576.50,564.39C580.47,563.92 584.44,563.50 588.42,563.12C592.40,562.74 596.39,562.40 600.37,562.09C604.36,561.78 608.35,561.50 612.34,561.25C616.33,561.00 620.33,560.77 624.32,560.57C628.31,560.37 632.31,560.19 636.31,560.04C640.30,559.89 644.30,559.76 648.30,559.65C652.30,559.54 656.30,559.45 660.29,559.38C664.29,559.30 668.29,559.24 672.29,559.20C676.29,559.15 680.29,559.12 684.29,559.11C688.29,559.10 692.29,559.11 696.29,559.14C700.29,559.17 704.29,559.23 708.29,559.29C712.29,559.36 716.29,559.45 720.28,559.54C724.28,559.63 728.28,559.74 732.28,559.84C736.28,559.94 740.28,560.04 744.28,560.14C748.28,560.24 752.27,560.33 756.27,560.42C760.27,560.51 764.27,560.59 768.27,560.67C772.27,560.74 776.27,560.81 780.27,560.87C784.27,560.93 788.27,560.97 792.27,561.01C796.27,561.05 800.27,561.08 804.27,561.11C808.27,561.13 812.27,561.15 816.27,561.16C820.27,561.18 824.27,561.18 828.27,561.19C832.27,561.20 836.27,561.21 840.27,561.23C844.27,561.25 848.27,561.26 852.26,561.31C856.26,561.37 860.26,561.42 864.26,561.53C868.26,561.64 872.25,561.78 876.24,561.97C880.24,562.17 884.23,562.41 888.21,562.70C892.20,563.00 896.18,563.35 900.16,563.75C904.13,564.16 908.10,564.63 912.07,565.14C916.03,565.66 919.99,566.23 923.94,566.84C927.89,567.45 931.83,568.12 935.77,568.81C939.71,569.50 943.64,570.23 947.57,571.00C951.49,571.76 955.41,572.57 959.31,573.41C963.22,574.25 967.12,575.13 971.02,576.04C974.91,576.95 978.80,577.90 982.68,578.86C986.56,579.83 990.43,580.83 994.30,581.85C998.17,582.87 1002.03,583.92 1005.88,584.99C1009.73,586.06 1013.58,587.16 1017.42,588.28C1021.25,589.40 1025.09,590.55 1028.91,591.73C1032.73,592.91 1036.54,594.11 1040.34,595.35C1044.15,596.59 1047.94,597.86 1051.72,599.15C1055.51,600.44 1059.28,601.77 1063.05,603.12C1066.81,604.46 1070.57,605.84 1074.31,607.25C1078.05,608.65 1081.79,610.09 1085.51,611.55C1089.23,613.00 1092.95,614.49 1096.65,616.00C1100.36,617.50 1104.05,619.03 1107.74,620.58C1111.42,622.14 1115.10,623.71 1118.77,625.31C1122.43,626.91 1126.09,628.53 1129.73,630.18C1133.37,631.84 1137.00,633.53 1140.60,635.25C1144.21,636.97 1147.81,638.73 1151.37,640.50C1154.93,642.28 1158.49,644.11 1161.94,645.92C1165.39,647.72 1168.81,649.56 1172.07,651.32C1175.34,653.08 1178.95,655.08 1181.52,656.49C1184.09,657.90 1186.50,659.25 1187.50,659.80" fill="none" stroke="#fff01a" stroke-width="6.2" stroke-linecap="butt" stroke-linejoin="round"/>
<path d="M141.70,1122.50C142.32,1120.60 144.16,1114.89 145.39,1111.08C146.62,1107.28 147.86,1103.47 149.09,1099.66C150.32,1095.86 151.55,1092.05 152.78,1088.25C154.01,1084.44 155.24,1080.63 156.46,1076.83C157.69,1073.02 158.91,1069.21 160.13,1065.40C161.36,1061.59 162.58,1057.79 163.81,1053.98C165.03,1050.17 166.25,1046.36 167.49,1042.56C168.72,1038.75 169.97,1034.95 171.22,1031.15C172.48,1027.35 173.72,1023.55 175.01,1019.77C176.30,1015.98 177.63,1012.21 178.97,1008.44C180.31,1004.67 181.67,1000.91 183.03,997.15C184.38,993.38 185.73,989.62 187.08,985.85C188.42,982.08 189.75,978.31 191.08,974.54C192.41,970.76 193.73,966.99 195.06,963.22C196.38,959.44 197.71,955.67 199.03,951.89C200.35,948.12 201.67,944.34 202.99,940.56C204.30,936.79 205.62,933.01 206.93,929.23C208.25,925.46 209.56,921.67 210.90,917.91C212.24,914.14 213.62,910.38 214.98,906.62C216.35,902.86 217.72,899.11 219.10,895.35C220.47,891.59 221.84,887.83 223.22,884.08C224.61,880.33 226.00,876.58 227.39,872.83C228.78,869.08 230.17,865.33 231.57,861.58C232.97,857.83 234.36,854.08 235.77,850.34C237.18,846.60 238.61,842.86 240.04,839.12C241.47,835.39 242.86,831.63 244.34,827.92C245.82,824.21 247.34,820.51 248.92,816.84C250.51,813.17 252.20,809.54 253.85,805.89C255.49,802.25 257.15,798.61 258.79,794.96C260.44,791.31 262.09,787.67 263.71,784.01C265.33,780.36 266.92,776.69 268.52,773.02C270.12,769.36 271.72,765.69 273.32,762.02C274.92,758.36 276.50,754.68 278.12,751.03C279.74,747.37 281.37,743.72 283.02,740.07C284.66,736.42 286.33,732.79 287.99,729.15C289.64,725.51 291.29,721.86 292.96,718.23C294.62,714.59 296.29,710.95 297.98,707.33C299.67,703.70 301.40,700.10 303.11,696.48C304.82,692.86 306.55,689.25 308.25,685.64C309.96,682.02 311.68,678.41 313.36,674.78C315.04,671.15 316.66,667.49 318.32,663.85C319.99,660.22 321.55,656.53 323.35,652.96C325.15,649.40 327.14,645.93 329.11,642.45C331.08,638.97 333.18,635.56 335.16,632.09C337.14,628.62 339.07,625.11 341.00,621.61C342.93,618.10 344.81,614.57 346.72,611.06C348.64,607.55 350.56,604.04 352.49,600.54C354.42,597.04 356.38,593.54 358.32,590.05C360.27,586.56 362.19,583.05 364.17,579.57C366.15,576.10 368.17,572.64 370.21,569.20C372.25,565.76 374.33,562.35 376.40,558.93C378.48,555.50 380.53,552.07 382.64,548.68C384.76,545.28 386.93,541.92 389.09,538.56C391.25,535.19 393.41,531.82 395.61,528.48C397.81,525.15 400.02,521.81 402.30,518.52C404.57,515.23 406.92,511.99 409.25,508.74C411.58,505.49 413.88,502.22 416.29,499.02C418.69,495.83 421.19,492.70 423.67,489.57C426.15,486.43 428.64,483.29 431.18,480.21C433.72,477.12 436.31,474.08 438.92,471.04C441.52,468.01 444.14,464.98 446.81,462.00C449.47,459.02 452.18,456.08 454.92,453.16C457.65,450.24 460.41,447.34 463.21,444.49C466.01,441.63 468.85,438.82 471.72,436.03C474.59,433.25 477.48,430.48 480.43,427.77C483.37,425.07 486.38,422.44 489.40,419.82C492.42,417.19 495.49,414.63 498.54,412.04C501.60,409.46 504.62,406.83 507.71,404.29C510.79,401.76 513.81,399.12 517.06,396.81C520.31,394.50 523.70,392.30 527.19,390.43C530.69,388.57 534.30,386.87 538.05,385.63C541.80,384.39 545.76,383.52 549.69,382.98C553.62,382.44 557.66,382.26 561.62,382.38C565.58,382.50 569.55,383.04 573.47,383.71C577.38,384.39 581.27,385.43 585.14,386.45C589.00,387.47 592.83,388.63 596.65,389.83C600.46,391.03 604.23,392.36 608.02,393.64C611.81,394.91 615.58,396.26 619.39,397.47C623.20,398.68 627.03,399.86 630.89,400.89C634.75,401.93 638.64,402.89 642.55,403.68C646.47,404.46 650.41,405.12 654.37,405.61C658.33,406.10 662.34,406.33 666.32,406.61C670.31,406.89 674.31,407.01 678.30,407.28C682.29,407.55 686.28,407.82 690.26,408.22C694.24,408.62 698.21,409.08 702.17,409.66C706.12,410.24 710.06,410.95 713.99,411.71C717.91,412.47 721.81,413.37 725.72,414.21C729.63,415.05 733.53,415.95 737.45,416.76C741.36,417.58 745.28,418.38 749.21,419.12C753.14,419.85 757.09,420.54 761.04,421.14C764.99,421.75 768.95,422.28 772.93,422.73C776.90,423.19 780.88,423.56 784.87,423.86C788.86,424.15 792.85,424.38 796.85,424.50C800.84,424.62 804.85,424.61 808.84,424.58C812.84,424.54 816.84,424.42 820.84,424.28C824.84,424.15 828.83,423.96 832.83,423.76C836.82,423.56 840.81,423.31 844.81,423.07C848.80,422.83 852.79,422.57 856.78,422.31C860.77,422.04 864.76,421.76 868.75,421.45C872.74,421.15 876.72,420.80 880.71,420.46C884.70,420.12 888.68,419.75 892.66,419.40C896.65,419.06 900.63,418.71 904.62,418.39C908.61,418.07 912.60,417.76 916.58,417.46C920.57,417.16 924.56,416.84 928.55,416.57C932.54,416.30 936.53,416.05 940.53,415.82C944.52,415.58 948.51,415.36 952.51,415.16C956.50,414.96 960.50,414.79 964.50,414.62C968.49,414.45 972.49,414.30 976.49,414.14C980.48,413.98 984.48,413.81 988.48,413.65C992.47,413.48 996.47,413.32 1000.47,413.14C1004.46,412.95 1008.46,412.74 1012.45,412.53C1016.44,412.32 1020.44,412.09 1024.43,411.88C1028.43,411.68 1032.42,411.48 1036.42,411.28C1040.41,411.08 1044.41,410.88 1048.40,410.68C1052.40,410.48 1056.39,410.27 1060.39,410.08C1064.38,409.89 1068.38,409.68 1072.37,409.53C1076.37,409.39 1080.37,409.30 1084.37,409.19C1088.37,409.08 1092.37,408.99 1096.36,408.89C1100.36,408.79 1104.36,408.69 1108.36,408.59C1112.36,408.49 1116.36,408.39 1120.36,408.30C1124.36,408.21 1128.36,408.13 1132.36,408.05C1136.35,407.97 1140.35,407.90 1144.35,407.83C1148.35,407.75 1152.35,407.67 1156.35,407.60C1160.35,407.52 1164.36,407.44 1168.35,407.37C1172.34,407.29 1177.04,407.20 1180.27,407.14C1183.51,407.08 1186.50,407.02 1187.75,407.00" fill="none" stroke="#ff0a90" stroke-width="6.2" stroke-linecap="butt" stroke-linejoin="round"/>
<path d="M141.25,1114.80C201.04,1114.80 380.21,1114.80 500.00,1114.80C619.79,1114.80 791.67,1114.83 860.00,1114.80C928.33,1114.77 897.22,1114.73 910.00,1114.60C922.78,1114.47 928.37,1114.32 936.70,1114.00C945.03,1113.68 951.67,1113.15 960.00,1112.70C968.33,1112.25 976.70,1111.87 986.70,1111.30C996.70,1110.73 1009.82,1110.45 1020.00,1109.30C1030.18,1108.15 1038.53,1106.13 1047.80,1104.40C1057.07,1102.67 1066.35,1100.23 1075.60,1098.90C1084.85,1097.57 1096.37,1097.12 1103.30,1096.40C1110.23,1095.68 1112.57,1095.46 1117.20,1094.60C1121.83,1093.74 1124.15,1092.73 1131.10,1091.25C1138.05,1089.77 1149.46,1087.33 1158.90,1085.70C1168.34,1084.08 1182.94,1082.20 1187.75,1081.50" fill="none" stroke="#f2f2f2" stroke-width="6.0" stroke-linecap="butt" stroke-linejoin="round"/>
<path d="M140.80,979.20C144.55,982.12 156.77,991.98 163.30,996.70C169.83,1001.42 174.43,1003.90 180.00,1007.50C185.57,1011.10 191.15,1014.68 196.70,1018.30C202.25,1021.92 207.75,1025.72 213.30,1029.20C218.85,1032.68 224.43,1036.02 230.00,1039.20C235.57,1042.38 241.15,1045.38 246.70,1048.30C252.25,1051.22 257.75,1054.00 263.30,1056.70C268.85,1059.40 274.43,1062.03 280.00,1064.50C285.57,1066.97 291.15,1069.17 296.70,1071.50C302.25,1073.83 307.75,1076.17 313.30,1078.50C318.85,1080.83 324.43,1083.20 330.00,1085.50C335.57,1087.80 341.15,1090.17 346.70,1092.30C352.25,1094.43 357.75,1096.52 363.30,1098.30C368.85,1100.08 374.43,1101.60 380.00,1103.00C385.57,1104.40 391.15,1105.75 396.70,1106.70C402.25,1107.65 407.75,1108.15 413.30,1108.70C418.85,1109.25 424.43,1109.70 430.00,1110.00C435.57,1110.30 441.15,1110.45 446.70,1110.50C452.25,1110.55 457.75,1110.43 463.30,1110.30C468.85,1110.17 474.43,1109.88 480.00,1109.70C485.57,1109.52 491.15,1109.37 496.70,1109.20C502.25,1109.03 507.75,1108.85 513.30,1108.70C518.85,1108.55 523.38,1108.45 530.00,1108.30C536.62,1108.15 541.33,1108.27 553.00,1107.80C564.67,1107.33 586.17,1106.18 600.00,1105.50C613.83,1104.82 619.33,1104.15 636.00,1103.70C652.67,1103.25 679.33,1102.83 700.00,1102.80C720.67,1102.77 737.33,1103.22 760.00,1103.50C782.67,1103.78 816.00,1104.17 836.00,1104.50C856.00,1104.83 864.67,1105.28 880.00,1105.50C895.33,1105.72 914.67,1105.82 928.00,1105.80C941.33,1105.78 944.67,1105.63 960.00,1105.40C975.33,1105.17 1000.73,1105.02 1020.00,1104.40C1039.27,1103.78 1057.08,1102.62 1075.60,1101.70C1094.12,1100.78 1112.41,1099.78 1131.10,1098.90C1149.79,1098.02 1178.31,1096.82 1187.75,1096.40" fill="none" stroke="#f26a08" stroke-width="6.4" stroke-linecap="butt" stroke-linejoin="round"/>
<g stroke="#e6e6e6" stroke-width="2" fill="none"><path d="M57,1135.7H1213"/><path d="M142.7,1135.7V1150"/><path d="M433,1135.7V1150"/><path d="M730,1135.7V1150"/><path d="M1028.5,1135.7V1150"/><path d="M55,281.5H90.6"/><path d="M55,496.1H90.6"/><path d="M55,710.8H90.6"/><path d="M55,925.6H90.6"/></g><text transform="translate(53.30,263.4) scale(1.0052,1)" font-family="'Liberation Sans',Arial,Helvetica,sans-serif" font-size="26.5" fill="#fff">2.0M barrels/day</text>
<text transform="translate(53.11,476.4) scale(0.8385,1)" font-family="'Liberation Sans',Arial,Helvetica,sans-serif" font-size="26.5" fill="#fff">1.5</text>
<text transform="translate(53.09,690.5) scale(0.8487,1)" font-family="'Liberation Sans',Arial,Helvetica,sans-serif" font-size="26.5" fill="#fff">1.0</text>
<text transform="translate(53.86,904.8) scale(1.0104,1)" font-family="'Liberation Sans',Arial,Helvetica,sans-serif" font-size="26.5" fill="#fff">0.5</text>
<text transform="translate(53.80,1113.9) scale(1.0868,1)" font-family="'Liberation Sans',Arial,Helvetica,sans-serif" font-size="26.5" fill="#fff">0</text>
<text transform="translate(112.64,1180.8) scale(1.0947,1)" font-family="'Liberation Sans',Arial,Helvetica,sans-serif" font-size="26.5" fill="#fff">2022</text>
<text transform="translate(402.44,1180.8) scale(1.0947,1)" font-family="'Liberation Sans',Arial,Helvetica,sans-serif" font-size="26.5" fill="#fff">2023</text>
<text transform="translate(699.85,1180.8) scale(1.0833,1)" font-family="'Liberation Sans',Arial,Helvetica,sans-serif" font-size="26.5" fill="#fff">2024</text>
<text transform="translate(998.13,1180.8) scale(1.1035,1)" font-family="'Liberation Sans',Arial,Helvetica,sans-serif" font-size="26.5" fill="#fff">2025</text>
<text transform="translate(325.86,529.2) scale(0.9909,1)" font-family="'Liberation Sans',Arial,Helvetica,sans-serif" font-size="26.5" fill="#ff0a90" font-weight="bold">India</text>
<text transform="translate(484.68,619.3) scale(0.9869,1)" font-family="'Liberation Sans',Arial,Helvetica,sans-serif" font-size="26.5" fill="#fff01a" font-weight="bold">China</text>
<text transform="translate(232.61,1031.25) scale(0.9872,1)" font-family="'Liberation Sans',Arial,Helvetica,sans-serif" font-size="26.5" fill="#f26a08">Unknown Asia</text>
<text transform="translate(997.24,1057.5) scale(1.0172,1)" font-family="'Liberation Sans',Arial,Helvetica,sans-serif" font-size="26.5" fill="#fff">Other Unknown</text>
<text transform="translate(1061.51,394.25) scale(1.0827,1)" font-family="'Liberation Sans',Arial,Helvetica,sans-serif" font-size="26.5" fill="#fff" font-style="italic">Trend line</text>
<text transform="translate(1136.54,1356.5) scale(0.9508,1)" font-family="'Liberation Sans',Arial,Helvetica,sans-serif" font-size="24.5" fill="#fff" font-weight="bold">Bloomberg</text>
<text transform="translate(26.51,73.7) scale(1.0129,1)" font-family="'DejaVu Sans',Verdana,Tahoma,sans-serif" font-size="35.3" fill="#fff" font-weight="bold">India</text>
<text transform="translate(139.03,73.7) scale(1.0419,1)" font-family="'DejaVu Sans',Verdana,Tahoma,sans-serif" font-size="35.3" fill="#fff" font-weight="bold">Is</text>
<text transform="translate(191.76,73.7) scale(0.9408,1)" font-family="'DejaVu Sans',Verdana,Tahoma,sans-serif" font-size="35.3" fill="#fff" font-weight="bold">a</text>
<text transform="translate(227.40,73.7) scale(1.0125,1)" font-family="'DejaVu Sans',Verdana,Tahoma,sans-serif" font-size="35.3" fill="#fff" font-weight="bold">Top</text>
<text transform="translate(312.81,73.7) scale(0.9378,1)" font-family="'DejaVu Sans',Verdana,Tahoma,sans-serif" font-size="35.3" fill="#fff" font-weight="bold">Buyer</text>
<text transform="translate(439.06,73.7) scale(0.8507,1)" font-family="'DejaVu Sans',Verdana,Tahoma,sans-serif" font-size="35.3" fill="#fff" font-weight="bold">of</text>
<text transform="translate(490.02,73.7) scale(0.9373,1)" font-family="'DejaVu Sans',Verdana,Tahoma,sans-serif" font-size="35.3" fill="#fff" font-weight="bold">Russian</text>
<text transform="translate(650.33,73.7) scale(0.9462,1)" font-family="'DejaVu Sans',Verdana,Tahoma,sans-serif" font-size="35.3" fill="#fff" font-weight="bold">Crude</text>
<text transform="translate(30.25,111.3) scale(0.9638,1)" font-family="'DejaVu Sans',Verdana,Tahoma,sans-serif" font-size="30" fill="#fff">The four-week moving average of crude shipments from all Russian ports shows a</text>
<text transform="translate(28.14,144.8) scale(0.9691,1)" font-family="'DejaVu Sans',Verdana,Tahoma,sans-serif" font-size="30" fill="#fff">surge in Indian purchases after the invasion of Ukraine</text>
<text transform="translate(27.82,1233.2) scale(0.9595,1)" font-family="'DejaVu Sans',Verdana,Tahoma,sans-serif" font-size="28" fill="#fff">Source: Vessel tracking data monitored by Bloomberg</text>
<text transform="translate(27.48,1265) scale(0.9611,1)" font-family="'DejaVu Sans',Verdana,Tahoma,sans-serif" font-size="28" fill="#fff">Note: "Unknown Asia" includes ships heading to the Suez Canal from</text>
<text transform="translate(27.47,1297) scale(0.9657,1)" font-family="'DejaVu Sans',Verdana,Tahoma,sans-serif" font-size="28" fill="#fff">Russia's western ports. "Other Unknown" includes vessels showing no</text>
<text transform="translate(28.04,1328.8) scale(0.9624,1)" font-family="'DejaVu Sans',Verdana,Tahoma,sans-serif" font-size="28" fill="#fff">clear destination and those that have transferred their cargo to</text>
<text transform="translate(27.70,1360.5) scale(0.9584,1)" font-family="'DejaVu Sans',Verdana,Tahoma,sans-serif" font-size="28" fill="#fff">unidentified ships.</text>
</svg>
</body></html>
